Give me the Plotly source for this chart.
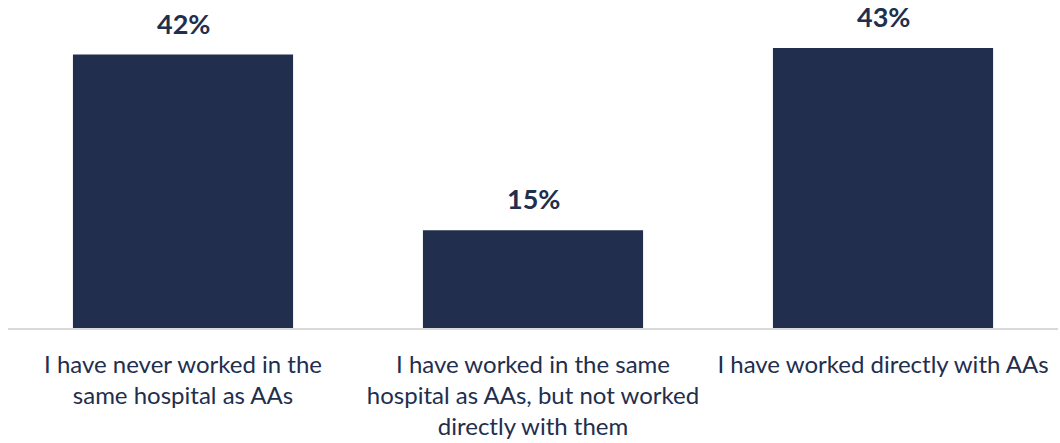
import plotly.graph_objects as go

# Survey responses: experience working with AAs
categories = [
    "I have never worked in the<br>same hospital as AAs",
    "I have worked in the same<br>hospital as AAs, but not worked<br>directly with them",
    "I have worked directly with AAs",
]
shares = [42, 15, 43]
value_labels = ["42%", "15%", "43%"]

navy = "#222E4D"
text_color = "#222E4D"

fig = go.Figure(
    go.Bar(
        x=categories,
        y=shares,
        marker=dict(color=navy, line=dict(width=0)),
        hoverinfo="skip",
    )
)

# value labels placed just above each bar
for cat, v, lab in zip(categories, shares, value_labels):
    fig.add_annotation(
        x=cat, y=v, text=f"<b>{lab}</b>",
        showarrow=False, yanchor="bottom", yshift=13,
        font=dict(family="Lato", size=27, color=text_color),
    )

fig.update_layout(
    width=1060, height=443,
    margin=dict(l=8, r=2, t=35, b=115),
    paper_bgcolor="white", plot_bgcolor="white",
    bargap=0.371,
    showlegend=False,
    font=dict(family="Lato", size=24, color=text_color),
)
fig.update_xaxes(
    showline=True, linecolor="#D9D9D9", linewidth=2,
    showgrid=False, ticks="", ticklabelstandoff=14,
    tickfont=dict(family="Lato", size=24, color=text_color),
)
fig.update_yaxes(
    range=[0, 45], visible=False, showgrid=False, zeroline=False,
)

fig.write_html("out.html")
